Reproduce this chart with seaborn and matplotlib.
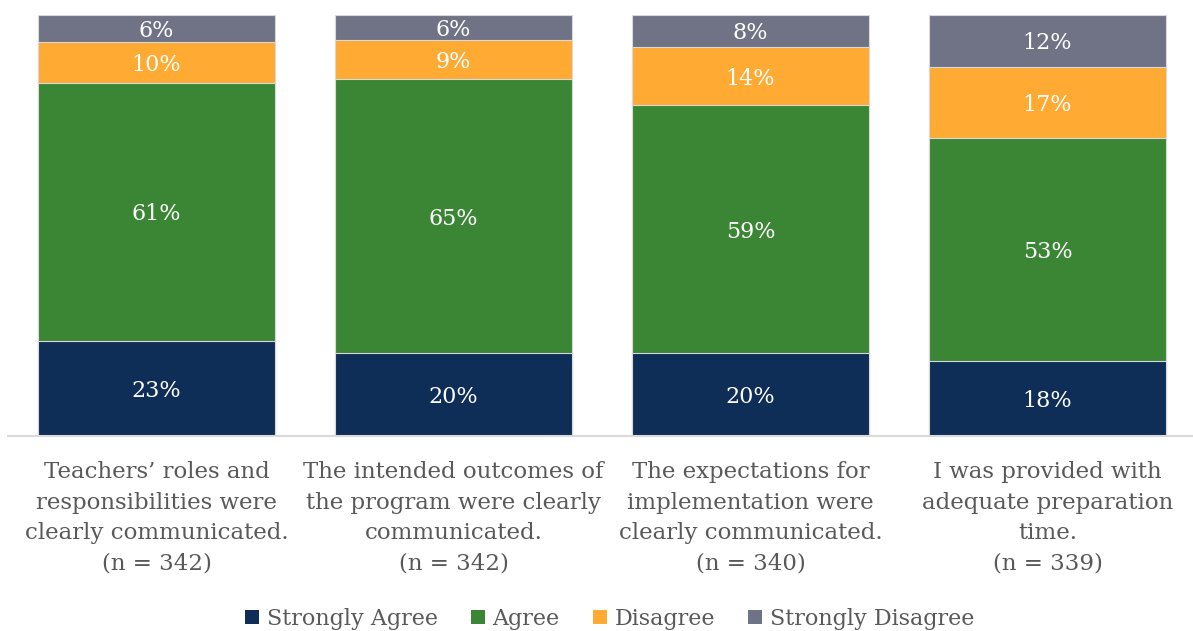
import matplotlib
matplotlib.use("Agg")
import matplotlib.pyplot as plt
import seaborn as sns
import pandas as pd
import numpy as np
from matplotlib.patches import Patch

categories = [
    "Teachers\u2019 roles and\nresponsibilities were\nclearly communicated.\n(n = 342)",
    "The intended outcomes of\nthe program were clearly\ncommunicated.\n(n = 342)",
    "The expectations for\nimplementation were\nclearly communicated.\n(n = 340)",
    "I was provided with\nadequate preparation\ntime.\n(n = 339)",
]
series_names = ["Strongly Agree", "Agree", "Disagree", "Strongly Disagree"]
strongly_agree = [22.6, 19.7, 19.7, 17.8]
agree = [61.3, 65.1, 58.9, 53.0]
disagree = [9.7, 9.3, 13.8, 16.9]
strongly_disagree = [6.4, 5.9, 7.6, 12.4]
colors = ["#0E2D57", "#3B8634", "#FFAA33", "#6F7385"]

sns.set_theme(style="white")
plt.rcParams["font.family"] = ["DejaVu Serif"]

series = [strongly_agree, agree, disagree, strongly_disagree]
cum = np.cumsum(np.array(series), axis=0)

fig = plt.figure(figsize=(11.93, 6.31), dpi=100)
ax = fig.add_axes([8 / 1193, 195 / 631, 1188 / 1193, 421 / 631])

for i in range(len(series) - 1, -1, -1):
    df = pd.DataFrame({"cat": categories, "val": cum[i]})
    sns.barplot(data=df, x="cat", y="val", color=colors[i], width=0.8,
                edgecolor="#D9D9D9", linewidth=0.8, ax=ax, saturation=1)

for i, s in enumerate(series):
    bottoms = cum[i] - np.array(s)
    for j, v in enumerate(s):
        ax.text(j, bottoms[j] + v / 2, f"{v:.0f}%", ha="center", va="center_baseline",
                color="white", fontsize=16)

ax.set_ylim(0, 100)
ax.set_xlim(-0.5, 3.5)
ax.set_xlabel("")
ax.set_ylabel("")
ax.set_yticks([])
for side in ["top", "right", "left"]:
    ax.spines[side].set_visible(False)
ax.spines["bottom"].set_color("#D9D9D9")
ax.spines["bottom"].set_linewidth(1.5)
ax.tick_params(axis="x", length=0, pad=18, labelsize=16.5, labelcolor="#595959")
for lbl in ax.get_xticklabels():
    lbl.set_linespacing(1.5)

handles = [Patch(facecolor=c, edgecolor="none") for c in colors]
fig.legend(handles, series_names, loc="center", bbox_to_anchor=(0.511, 12 / 631),
           ncol=4, frameon=False, fontsize=16, labelcolor="#595959",
           handlelength=0.62, handleheight=0.62, handletextpad=0.35, columnspacing=1.5)

fig.savefig("out.png", dpi=100)
